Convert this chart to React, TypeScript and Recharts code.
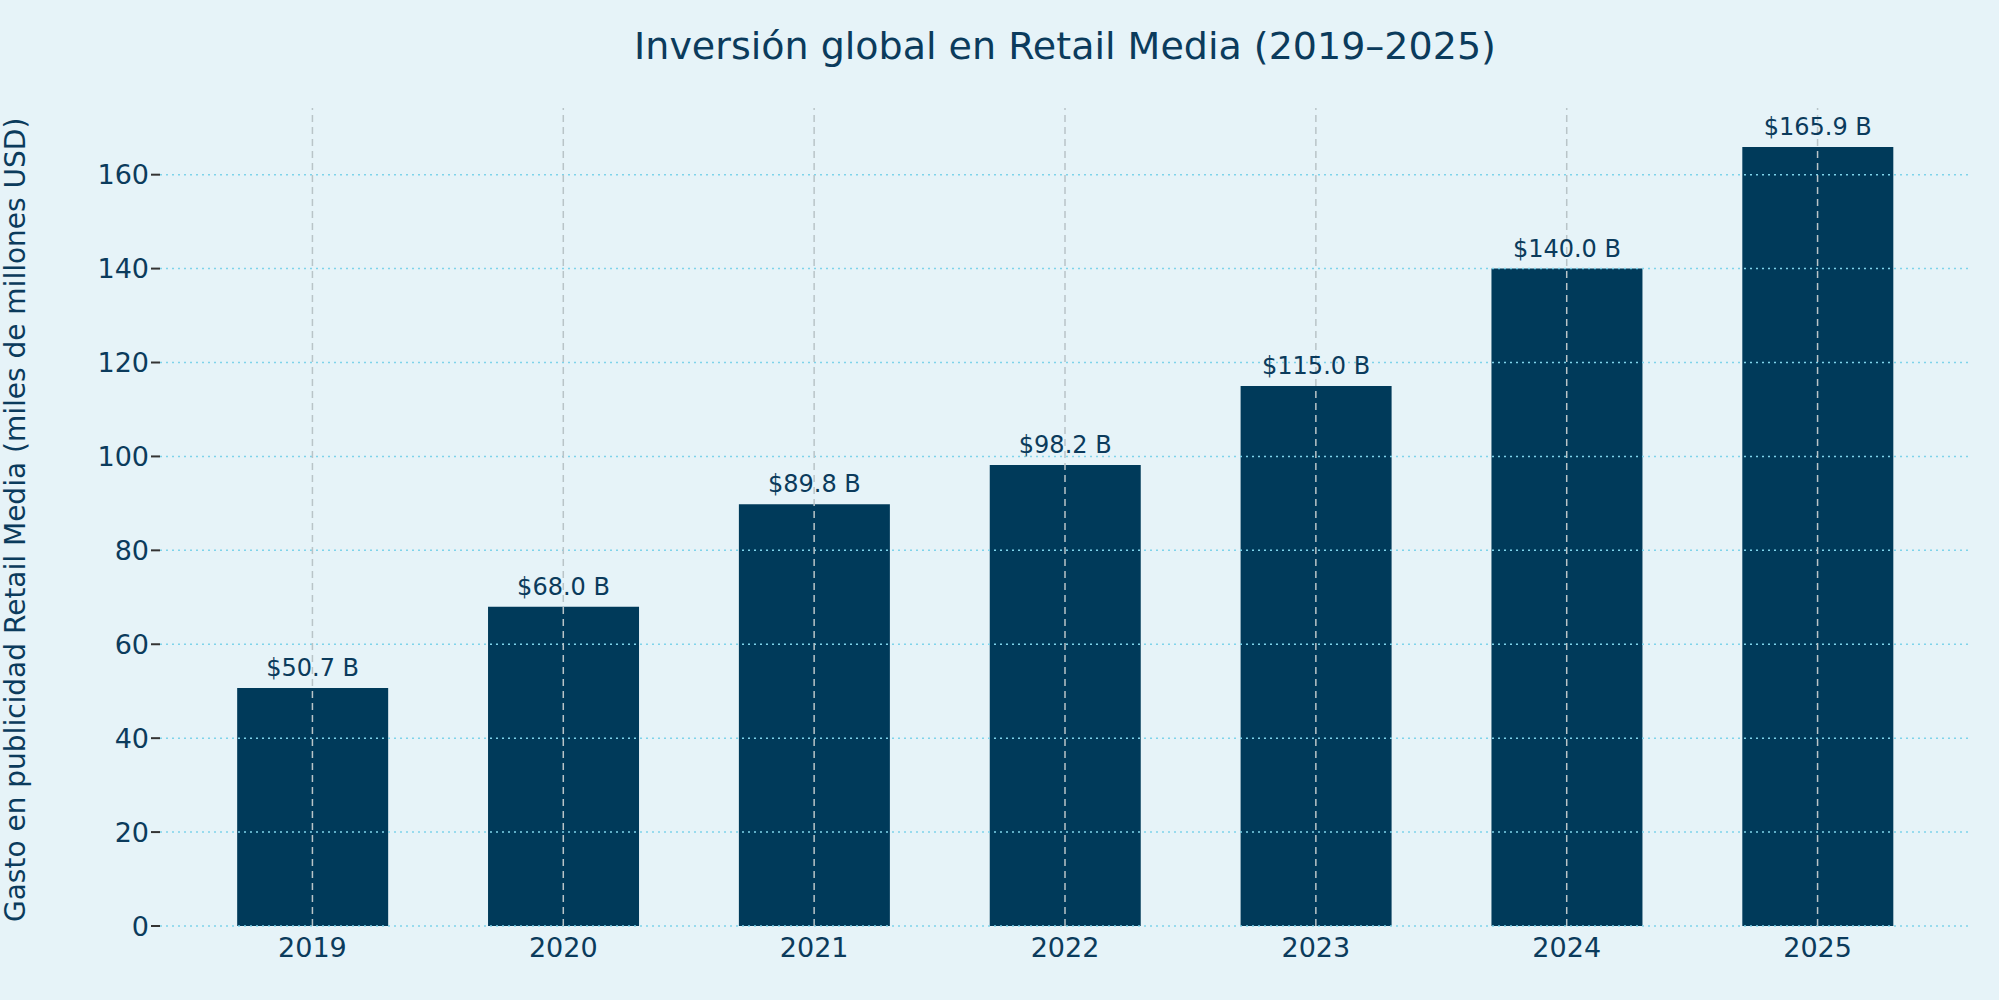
import { BarChart, Bar, XAxis, YAxis, ReferenceLine, LabelList } from "recharts";

const YEARS = ["2019", "2020", "2021", "2022", "2023", "2024", "2025"];
const SPEND = [50.7, 68.0, 89.8, 98.2, 115.0, 140.0, 165.9];
const Y_TICKS = [0, 20, 40, 60, 80, 100, 120, 140, 160];

const INK = "#0b3b5c";
const BAR = "#003a5a";
const BG = "#e6f3f8";
const FONT = "DejaVu Sans, sans-serif";

const data = YEARS.map((year, i) => ({ year, spend: SPEND[i] }));

export default function App() {
  return (
    <div style={{ position: "absolute", left: 0, top: 0, width: 1999, height: 1000, background: BG, fontFamily: FONT }}>
      <div style={{ position: "absolute", top: 24, left: 160, width: 1810, textAlign: "center", fontSize: 38, color: INK }}>
        Inversión global en Retail Media (2019–2025)
      </div>
      <BarChart width={1999} height={1000} data={data} margin={{ top: 108, right: 29, left: 0, bottom: 0 }} barCategoryGap="20%">
        <XAxis
          dataKey="year"
          height={74}
          axisLine={false}
          tickLine={false}
          padding={{ left: 27, right: 27 }}
          tick={{ fontSize: 27, fill: INK, fontFamily: FONT }}
          tickMargin={6}
        />
        <YAxis
          width={160}
          domain={[0, 174.2]}
          ticks={Y_TICKS}
          axisLine={false}
          tickLine={{ stroke: "#333", strokeWidth: 2 }}
          tickSize={9}
          tick={{ fontSize: 27, fill: INK, fontFamily: FONT }}
          label={{
            value: "Gasto en publicidad Retail Media (miles de millones USD)",
            angle: -90,
            position: "insideLeft",
            dx: 10,
            dy: 405,
            style: { fontSize: 28, fill: INK, fontFamily: FONT, textAnchor: "start" },
          }}
        />
        <Bar dataKey="spend" fill={BAR} isAnimationActive={false}>
          <LabelList
            dataKey="spend"
            position="top"
            offset={12}
            formatter={(v: any) => `$${Number(v).toFixed(1)} B`}
            style={{ fontSize: 24, fill: INK, fontFamily: FONT }}
          />
        </Bar>
        {Y_TICKS.map((t) => (
          <ReferenceLine key={t} y={t} stroke="#7fd3ea" strokeWidth={1.5} strokeDasharray="2 4" />
        ))}
        {YEARS.map((y) => (
          <ReferenceLine key={y} x={y} stroke="#b9c4c8" strokeWidth={1.5} strokeDasharray="7 5" />
        ))}
      </BarChart>
    </div>
  );
}
